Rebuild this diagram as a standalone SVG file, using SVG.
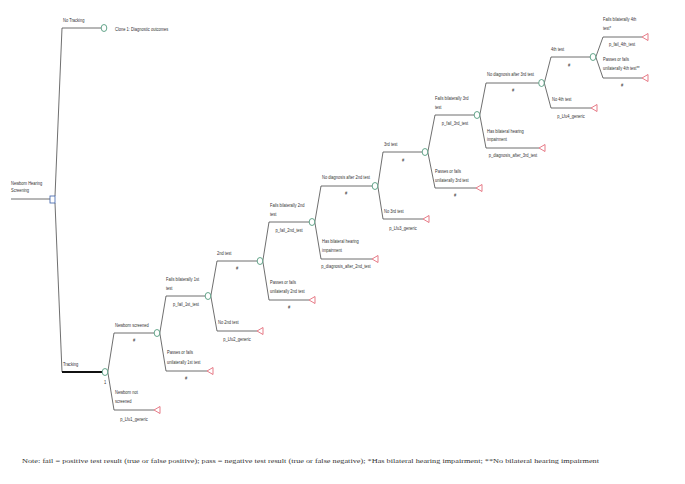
<svg xmlns="http://www.w3.org/2000/svg" width="685" height="484" viewBox="0 0 685 484">
<style>
.ln{stroke:#4a4a4a;stroke-width:0.8;fill:none}
.thick{stroke:#111;stroke-width:2.2;fill:none}
.ch{fill:#fff;stroke:#3f8f6f;stroke-width:0.8}
.tm{fill:#fff;stroke:#e05a6a;stroke-width:0.8}
.dc{fill:#fff;stroke:#3a5fa8;stroke-width:0.8}
.t{font-family:"Liberation Sans",Arial,sans-serif;font-size:5.6px;fill:#333}
.m{text-anchor:middle}
.note{font-family:"Liberation Serif","Times New Roman",serif;font-size:6.8px;fill:#333}
</style>
<defs>
<polygon id="tri" points="0,0 6,-3.5 6,3.5"/>
</defs>
<rect width="685" height="484" fill="#fff"/>
<g id="connectors">
<path class="ln" d="M11 199 H50"/>
<path class="ln" d="M55 196 L62 28 H101.2"/>
<path class="ln" d="M55 203 L62 372"/>
<path class="thick" d="M62 372 H102.2"/>
<path class="ln" d="M107.8 372 L114 333 H154.2"/>
<path class="ln" d="M107.8 372 L114 410 H154"/>
<path class="ln" d="M159.8 333 L166 296 H205.2"/>
<path class="ln" d="M159.8 333 L166 371 H207"/>
<path class="ln" d="M210.8 296 L217 261 H257.2"/>
<path class="ln" d="M210.8 296 L217 331 H257"/>
<path class="ln" d="M262.8 261 L269 222 H309.2"/>
<path class="ln" d="M262.8 261 L269 300 H309"/>
<path class="ln" d="M314.8 222 L321 186 H372.2"/>
<path class="ln" d="M314.8 222 L321 259 H372"/>
<path class="ln" d="M377.8 186 L383 152 H422.2"/>
<path class="ln" d="M377.8 186 L383 219 H423"/>
<path class="ln" d="M427.8 152 L435 115 H474.2"/>
<path class="ln" d="M427.8 152 L435 188 H476"/>
<path class="ln" d="M479.8 115 L486 83 H538.7"/>
<path class="ln" d="M479.8 115 L486 148 H539"/>
<path class="ln" d="M544.3 83 L551 57 H590.2"/>
<path class="ln" d="M544.3 83 L551 108 H591"/>
<path class="ln" d="M595.8 57 L603 37 H642"/>
<path class="ln" d="M595.8 57 L603 78 H642"/>
</g>
<g id="root">
<rect class="dc" x="50" y="196" width="5" height="7"/>
<text class="t" transform="translate(11 185) scale(.72 1)">Newborn Hearing</text>
<text class="t" transform="translate(11 192) scale(.72 1)">Screening</text>
</g>
<g id="no-tracking">
<ellipse class="ch" cx="104" cy="28" rx="2.8" ry="3.5"/>
<text class="t" transform="translate(63 21.5) scale(.72 1)">No Tracking</text>
<text class="t" transform="translate(115 30.5) scale(.72 1)">Clone 1: Diagnostic outcomes</text>
</g>
<g id="tracking">
<ellipse class="ch" cx="105" cy="372" rx="2.8" ry="3.5"/>
<text class="t" transform="translate(63 366) scale(.72 1)">Tracking</text>
<text class="t m" transform="translate(105 384) scale(.72 1)">1</text>
</g>
<g id="newborn-screened">
<ellipse class="ch" cx="157" cy="333" rx="2.8" ry="3.5"/>
<text class="t" transform="translate(115 327) scale(.72 1)">Newborn screened</text>
<text class="t m" transform="translate(134 342) scale(.72 1)">#</text>
</g>
<g id="newborn-not-screened">
<use href="#tri" class="tm" x="154" y="410"/>
<text class="t" transform="translate(115 394) scale(.72 1)">Newborn not</text>
<text class="t" transform="translate(115 403) scale(.72 1)">screened</text>
<text class="t m" transform="translate(134 421) scale(.72 1)">p_Lfu1_generic</text>
</g>
<g id="fails-1st">
<ellipse class="ch" cx="208" cy="296" rx="2.8" ry="3.5"/>
<text class="t" transform="translate(166 281) scale(.72 1)">Fails bilaterally 1st</text>
<text class="t" transform="translate(166 290) scale(.72 1)">test</text>
<text class="t m" transform="translate(186 306) scale(.72 1)">p_fail_1st_test</text>
</g>
<g id="passes-1st">
<use href="#tri" class="tm" x="207" y="371"/>
<text class="t" transform="translate(167 354) scale(.72 1)">Passes or fails</text>
<text class="t" transform="translate(167 364) scale(.72 1)">unilaterally 1st test</text>
<text class="t m" transform="translate(186 380) scale(.72 1)">#</text>
</g>
<g id="second-test">
<ellipse class="ch" cx="260" cy="261" rx="2.8" ry="3.5"/>
<text class="t" transform="translate(217 255) scale(.72 1)">2nd test</text>
<text class="t m" transform="translate(237 270) scale(.72 1)">#</text>
</g>
<g id="no-2nd-test">
<use href="#tri" class="tm" x="257" y="331"/>
<text class="t" transform="translate(218 324) scale(.72 1)">No 2nd test</text>
<text class="t m" transform="translate(237 341) scale(.72 1)">p_Lfu2_generic</text>
</g>
<g id="fails-2nd">
<ellipse class="ch" cx="312" cy="222" rx="2.8" ry="3.5"/>
<text class="t" transform="translate(270 207) scale(.72 1)">Fails bilaterally 2nd</text>
<text class="t" transform="translate(270 216) scale(.72 1)">test</text>
<text class="t m" transform="translate(289 232) scale(.72 1)">p_fail_2nd_test</text>
</g>
<g id="passes-2nd">
<use href="#tri" class="tm" x="309" y="300"/>
<text class="t" transform="translate(270 284) scale(.72 1)">Passes or fails</text>
<text class="t" transform="translate(270 293) scale(.72 1)">unilaterally 2nd test</text>
<text class="t m" transform="translate(289 309) scale(.72 1)">#</text>
</g>
<g id="no-diagnosis-2nd">
<ellipse class="ch" cx="375" cy="186" rx="2.8" ry="3.5"/>
<text class="t" transform="translate(322 179) scale(.72 1)">No diagnosis after 2nd test</text>
<text class="t m" transform="translate(346 195) scale(.72 1)">#</text>
</g>
<g id="has-bilateral-2nd">
<use href="#tri" class="tm" x="372" y="259"/>
<text class="t" transform="translate(322 243) scale(.72 1)">Has bilateral hearing</text>
<text class="t" transform="translate(322 252) scale(.72 1)">impairment</text>
<text class="t m" transform="translate(346 268) scale(.72 1)">p_diagnosis_after_2nd_test</text>
</g>
<g id="third-test">
<ellipse class="ch" cx="425" cy="152" rx="2.8" ry="3.5"/>
<text class="t" transform="translate(384 146) scale(.72 1)">3rd test</text>
<text class="t m" transform="translate(403 162) scale(.72 1)">#</text>
</g>
<g id="no-3rd-test">
<use href="#tri" class="tm" x="423" y="219"/>
<text class="t" transform="translate(384 213) scale(.72 1)">No 3rd test</text>
<text class="t m" transform="translate(403 230) scale(.72 1)">p_Lfu3_generic</text>
</g>
<g id="fails-3rd">
<ellipse class="ch" cx="477" cy="115" rx="2.8" ry="3.5"/>
<text class="t" transform="translate(435 100) scale(.72 1)">Fails bilaterally 3rd</text>
<text class="t" transform="translate(435 109) scale(.72 1)">test</text>
<text class="t m" transform="translate(455 125) scale(.72 1)">p_fail_3rd_test</text>
</g>
<g id="passes-3rd">
<use href="#tri" class="tm" x="476" y="188"/>
<text class="t" transform="translate(435 173) scale(.72 1)">Passes or fails</text>
<text class="t" transform="translate(435 182) scale(.72 1)">unilaterally 3rd test</text>
<text class="t m" transform="translate(455 197) scale(.72 1)">#</text>
</g>
<g id="no-diagnosis-3rd">
<ellipse class="ch" cx="541.5" cy="83" rx="2.8" ry="3.5"/>
<text class="t" transform="translate(487 76) scale(.72 1)">No diagnosis after 3rd test</text>
<text class="t m" transform="translate(513 92) scale(.72 1)">#</text>
</g>
<g id="has-bilateral-3rd">
<use href="#tri" class="tm" x="539" y="148"/>
<text class="t" transform="translate(487 133) scale(.72 1)">Has bilateral hearing</text>
<text class="t" transform="translate(487 141) scale(.72 1)">impairment</text>
<text class="t m" transform="translate(513 157) scale(.72 1)">p_diagnosis_after_3rd_test</text>
</g>
<g id="fourth-test">
<ellipse class="ch" cx="593" cy="57" rx="2.8" ry="3.5"/>
<text class="t" transform="translate(551 51) scale(.72 1)">4th test</text>
<text class="t m" transform="translate(569 67) scale(.72 1)">#</text>
</g>
<g id="no-4th-test">
<use href="#tri" class="tm" x="591" y="108"/>
<text class="t" transform="translate(552 101) scale(.72 1)">No 4th test</text>
<text class="t m" transform="translate(571 118) scale(.72 1)">p_Lfu4_generic</text>
</g>
<g id="fails-4th">
<use href="#tri" class="tm" x="642" y="37"/>
<text class="t" transform="translate(603 21) scale(.72 1)">Fails bilaterally 4th</text>
<text class="t" transform="translate(603 30) scale(.72 1)">test*</text>
<text class="t m" transform="translate(622 46) scale(.72 1)">p_fail_4th_test</text>
</g>
<g id="passes-4th">
<use href="#tri" class="tm" x="642" y="78"/>
<text class="t" transform="translate(603 61) scale(.72 1)">Passes or fails</text>
<text class="t" transform="translate(603 70) scale(.72 1)">unilaterally 4th test**</text>
<text class="t m" transform="translate(622 87) scale(.72 1)">#</text>
</g>
<text class="note" x="22" y="463" textLength="577" lengthAdjust="spacingAndGlyphs">Note: fail = positive test result (true or false positive); pass = negative test result (true or false negative); *Has bilateral hearing impairment; **No bilateral hearing impairment</text>
</svg>
